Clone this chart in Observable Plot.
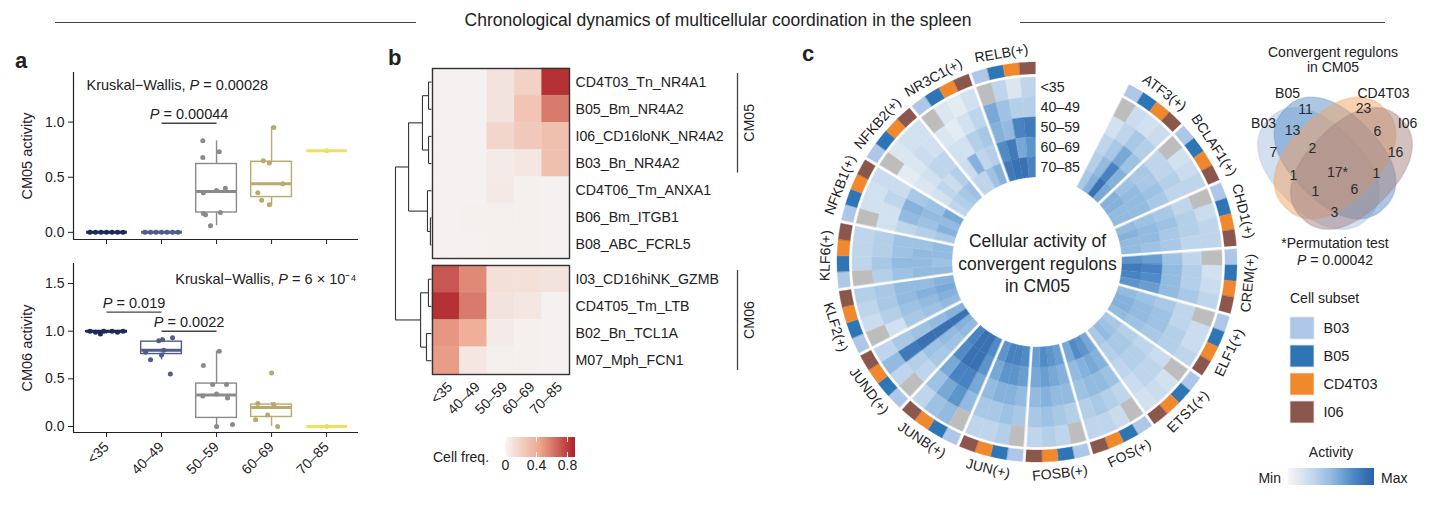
<!DOCTYPE html>
<html>
<head>
<meta charset="utf-8">
<script src="https://cdn.jsdelivr.net/npm/d3@7"></script>
<script src="https://cdn.jsdelivr.net/npm/@observablehq/plot@0.6"></script>
<style>
  html,body{margin:0;padding:0;background:#fff;}
  #fig{position:relative;width:1455px;height:519px;overflow:hidden;font-family:"Liberation Sans",Arial,Helvetica,sans-serif;color:#222;}
  #fig > *{position:absolute;}
  .t{white-space:nowrap;line-height:1;}
</style>
</head>
<body>
<div id="fig"></div>
<script>
// ======================= DATA =======================
const ages = ["<35", "40–49", "50–59", "60–69", "70–85"];
const ageColors = ["#1d2a57", "#505c89", "#8a8a8a", "#b8a96c", "#f1de60"];

// Panel a — CM05 activity (box summaries + samples)
const cm05Lo  = [0, 0, 0.06, 0.24, 0.74];
const cm05Q1  = [0, 0, 0.18, 0.32, 0.74];
const cm05Med = [0, 0, 0.37, 0.44, 0.74];
const cm05Q3  = [0, 0, 0.62, 0.64, 0.74];
const cm05Hi  = [0, 0, 0.83, 0.96, 0.74];
const cm05Pts = [[0,0,0,0,0,0,0],[0,0,0,0,0,0,0],[0.83,0.68,0.73,0.36,0.38,0.40,0.17,0.16,0.18,0.06],[0.95,0.65,0.63,0.36,0.29,0.25,0.44],[0.74]];
const cm05Jit = [[-0.3,-0.2,-0.1,0,0.1,0.2,0.3],[-0.3,-0.2,-0.1,0,0.1,0.2,0.3],[-0.25,-0.25,0.05,-0.24,0,0.16,-0.24,-0.2,0.07,-0.11],[0.04,-0.15,-0.04,-0.25,-0.18,-0.04,0.2],[0]];
const cm05Brackets = [{from: 1, to: 2, y: 0.99, label: "P = 0.00044"}];
const cm05KW = "Kruskal−Wallis, P = 0.00028";

// Panel a — CM06 activity
const cm06Lo  = [0.97, 0.70, 0, 0, 0];
const cm06Q1  = [0.99, 0.76, 0.09, 0.10, 0];
const cm06Med = [1.00, 0.80, 0.33, 0.20, 0];
const cm06Q3  = [1.00, 0.89, 0.45, 0.23, 0];
const cm06Hi  = [1.00, 0.93, 0.79, 0.25, 0];
const cm06Pts = [[1,0.99,1,0.97,1,0.99,1],[0.90,0.93,0.91,0.78,0.80,0.70,0.55,0.75],[0.79,0.64,0.44,0.44,0.32,0.34,0.30,0,0.02],[0.56,0.24,0.23,0.12,0.07,0],[0]];
const cm06Jit = [[-0.3,-0.2,-0.05,-0.11,0.1,0.2,0.3],[-0.05,0.2,0.02,-0.29,0.04,-0.2,0.16,0],[0.05,-0.24,-0.07,0.18,-0.25,0,0.2,0,0.29],[0,-0.25,0.04,-0.07,-0.29,0.11],[0]];
const cm06Brackets = [{from: 0, to: 1, y: 1.20, label: "P = 0.019"}, {from: 1, to: 2, y: 1.00, label: "P = 0.0022"}];
const cm06KW = "Kruskal−Wallis, P = 6 × 10⁻⁴";

// Panel b — cell frequency heatmap
const hmRowsTop = ["CD4T03_Tn_NR4A1","B05_Bm_NR4A2","I06_CD16loNK_NR4A2","B03_Bn_NR4A2","CD4T06_Tm_ANXA1","B06_Bm_ITGB1","B08_ABC_FCRL5"];
const hmRowsBottom = ["I03_CD16hiNK_GZMB","CD4T05_Tm_LTB","B02_Bn_TCL1A","M07_Mph_FCN1"];
const freqTop = [
  [0.02,0.02,0.10,0.20,0.85],
  [0.02,0.02,0.10,0.28,0.60],
  [0.02,0.02,0.18,0.25,0.30],
  [0.02,0.02,0.06,0.08,0.30],
  [0.02,0.02,0.07,0.03,0.02],
  [0.02,0.03,0.04,0.03,0.02],
  [0.02,0.02,0.03,0.03,0.02]];
const freqBottom = [
  [0.72,0.55,0.12,0.12,0.10],
  [0.85,0.60,0.10,0.08,0.02],
  [0.50,0.40,0.06,0.03,0.02],
  [0.48,0.08,0.04,0.03,0.02]];
const moduleTop = {from: 0, to: 3, label: "CM05"};
const moduleBottom = {from: 0, to: 3, label: "CM06"};
// dendrogram merges: [childA, childB, height]; leaves 0..10, merge k -> node 11+k
const dendroMerges = [[0,1,0.27],[2,3,0.27],[11,12,0.83],[5,6,0.1],[4,14,0.37],[13,15,2.1],[7,8,0.28],[9,10,0.46],[17,18,1.0],[16,19,3.3]];

// Panel c — circular heatmap of regulon activity (rows: age groups outer->inner, cols: B03,B05,CD4T03,I06)
const regulons = ["ATF3(+)","BCLAF1(+)","CHD1(+)","CREM(+)","ELF1(+)","ETS1(+)","FOS(+)","FOSB(+)","JUN(+)","JUNB(+)","JUND(+)","KLF2(+)","KLF6(+)","NFKB1(+)","NFKB2(+)","NR3C1(+)","RELB(+)"];
const cellSubsets = ["B03","B05","CD4T03","I06"];
const subsetColors = ["#aec7e8","#2e75b6","#f0882e","#8b564b"];
const actATF3  = [[null,.25,.20,.25],[.20,.30,.40,.35],[.30,.40,.60,.45],[.35,.50,.80,.55],[.40,.55,.90,.60]];
const actBCLAF1= [[null,.20,.25,.30],[.30,.30,.35,.30],[.40,.40,.45,.40],[.45,.50,.50,.50],[.55,.55,.50,.50]];
const actCHD1  = [[null,.25,.30,.30],[.30,.35,.35,.30],[.40,.45,.40,.40],[.45,.50,.50,.45],[.50,.55,.50,.50]];
const actCREM  = [[null,.20,.25,.30],[.30,.35,.35,.40],[.45,.50,.50,.50],[.65,.80,.75,.65],[.70,.85,.80,.70]];
const actELF1  = [[null,.25,.25,.30],[.30,.30,.35,.35],[.40,.45,.45,.40],[.45,.50,.50,.45],[.50,.55,.55,.50]];
const actETS1  = [[null,.20,.25,.20],[.25,.30,.30,.25],[.30,.35,.35,.30],[.35,.40,.40,.35],[.40,.45,.50,.40]];
const actFOS   = [[null,.25,.30,.30],[.30,.35,.40,.35],[.45,.50,.50,.45],[.55,.60,.55,.50],[.60,.70,.75,.60]];
const actFOSB  = [[null,.30,.35,.30],[.35,.40,.45,.40],[.50,.50,.55,.50],[.55,.60,.65,.60],[.65,.70,.75,.65]];
const actJUN   = [[null,.35,.30,.30],[.40,.45,.40,.40],[.50,.55,.55,.50],[.65,.70,.70,.60],[.75,.80,.80,.70]];
const actJUNB  = [[null,.50,.45,.30],[.50,.70,.60,.45],[.60,.80,.80,.60],[.70,.90,.90,.75],[.75,.90,.90,.80]];
const actJUND  = [[null,.30,.50,.30],[.30,.35,.85,.40],[.40,.45,.90,.45],[.45,.50,.90,.50],[.50,.55,.90,.55]];
const actKLF2  = [[null,.25,.30,.35],[.20,.35,.40,.40],[.40,.45,.50,.50],[.45,.50,.55,.50],[.50,.55,.60,.55]];
const actKLF6  = [[null,.30,.30,.30],[.35,.40,.35,.35],[.45,.50,.45,.45],[.50,.50,.50,.45],[.50,.45,.50,.50]];
const actNFKB1 = [[null,.20,.20,.25],[.20,.20,.30,.25],[.30,.50,.55,.40],[.35,.45,.50,.45],[.40,.55,.50,.60]];
const actNFKB2 = [[null,.15,.20,.20],[.10,.15,.25,.20],[.15,.20,.30,.30],[.20,.30,.25,.35],[.30,.35,.40,.45]];
const actNR3C1 = [[null,.15,.10,.20],[.15,.10,.20,.30],[.20,.20,.35,.40],[.25,.55,.30,.35],[.30,.30,.45,.55]];
const actRELB  = [[null,.30,.15,.30],[.60,.45,.35,.35],[.55,.50,.80,.85],[.75,.85,.60,.70],[.85,.90,.90,.80]];
const activityBySector = [actATF3,actBCLAF1,actCHD1,actCREM,actELF1,actETS1,actFOS,actFOSB,actJUN,actJUNB,actJUND,actKLF2,actKLF6,actNFKB1,actNFKB2,actNR3C1,actRELB];

// Venn diagram of convergent regulons
const vennSetLabels = ["B03","B05","CD4T03","I06"];
const vennColors = ["#a5c0e2","#5a8fc9","#f2a363","#a5837f"];
const vennCountLabels = ["7","11","23","16","13","6","2","1","17*","1","1","6","3"];

// ======================= HELPERS =======================
const fig = document.getElementById("fig");
const FONT = '"Liberation Sans", Arial, Helvetica, sans-serif';
const STYLE = {fontFamily: FONT, fontSize: "14px", color: "#222", background: "transparent", overflow: "visible"};
function place(el, left, top) { el.style.left = left + "px"; el.style.top = top + "px"; fig.appendChild(el); return el; }
function label(html, x, baseline, {size = 14, anchor = "middle", weight = "normal"} = {}) {
  const d = document.createElement("div");
  d.className = "t"; d.innerHTML = html;
  d.style.fontSize = size + "px"; d.style.fontWeight = weight;
  const tx = anchor === "middle" ? "-50%" : anchor === "end" ? "-100%" : "0";
  d.style.transform = `translate(${tx},0)`;
  return place(d, x, baseline - 0.8465 * size);
}
function italicP(svg) {
  svg.querySelectorAll("text, tspan").forEach(node => {
    if (node.children.length) return;
    const s = node.textContent, k = s.indexOf("P =");
    if (k < 0) return;
    node.textContent = "";
    node.append(s.slice(0, k));
    const it = document.createElementNS("http://www.w3.org/2000/svg", "tspan");
    it.setAttribute("font-style", "italic"); it.textContent = "P";
    node.append(it); node.append(s.slice(k + 1));
  });
  return svg;
}

// ======================= TITLE =======================
const lineL = document.createElement("div");
lineL.style.cssText = "width:361px;height:0;border-top:1.3px solid #444;";
place(lineL, 55, 22);
const lineR = document.createElement("div");
lineR.style.cssText = "width:365px;height:0;border-top:1.3px solid #444;";
place(lineR, 1020, 22);
label("Chronological dynamics of multicellular coordination in the spleen", 718, 27, {size: 17.5});
label("a", 15, 69, {size: 22, weight: "bold", anchor: "start"});
label("b", 388, 66, {size: 22, weight: "bold", anchor: "start"});
label("c", 802, 62, {size: 22, weight: "bold", anchor: "start"});

// ======================= PANEL a =======================
function boxPanel(cfg) {
  const idx = d3.range(ages.length);
  const pts = cfg.pts.flatMap((arr, g) => arr.map((v, k) => ({g, v, j: cfg.jit[g][k]})));
  const hw = 0.37, xDom = [-0.6, 4.58];
  const svg = Plot.plot({
    width: 370, height: cfg.height, marginLeft: 73, marginRight: 12, marginTop: cfg.mt, marginBottom: cfg.mb,
    style: STYLE,
    x: {domain: xDom, ticks: idx, tickSize: 5, tickPadding: cfg.showX ? 7 : 3, tickFormat: cfg.showX ? (i => ages[i]) : (() => ""), tickRotate: cfg.showX ? -45 : 0, label: null},
    y: {domain: cfg.yDomain, ticks: cfg.yTicks, tickSize: 5, tickPadding: 4, tickFormat: d3.format(".1f"), label: null},
    color: {domain: ages, range: ageColors},
    marks: [
      Plot.ruleX([xDom[0]], {stroke: "#222", strokeWidth: 1.2}),
      Plot.ruleY([cfg.yDomain[0]], {stroke: "#222", strokeWidth: 1.2}),
      Plot.ruleX(idx, {x: i => i, y1: i => cfg.lo[i], y2: i => cfg.q1[i], stroke: i => ages[i], strokeWidth: 1.4}),
      Plot.ruleX(idx, {x: i => i, y1: i => cfg.q3[i], y2: i => cfg.hi[i], stroke: i => ages[i], strokeWidth: 1.4}),
      Plot.rect(idx, {x1: i => i - hw, x2: i => i + hw, y1: i => cfg.q1[i], y2: i => cfg.q3[i], stroke: i => ages[i], fill: "none", strokeWidth: 1.4}),
      Plot.link(idx, {x1: i => i - hw, x2: i => i + hw, y1: i => cfg.med[i], y2: i => cfg.med[i], stroke: i => ages[i], strokeWidth: 3}),
      Plot.dot(pts, {x: d => d.g + d.j, y: "v", fill: d => ages[d.g], r: 2.5, stroke: "none"}),
      Plot.link(cfg.brackets, {x1: "from", x2: "to", y1: "y", y2: "y", stroke: "#444", strokeWidth: 1.4}),
      Plot.text(cfg.brackets, {x: d => (d.from + d.to) / 2, y: "y", text: "label", dy: -9, fontSize: 14.5}),
      Plot.text([cfg.kw], {frameAnchor: cfg.kwAnchor, text: d => d, dx: cfg.kwDx, dy: cfg.kwDy, textAnchor: cfg.kwTA, lineAnchor: "middle", fontSize: 14.5}),
      Plot.text([cfg.ylabel], {frameAnchor: "left", text: d => d, rotate: -90, dx: -46, textAnchor: "middle", lineAnchor: "middle", fontSize: 14.5})
    ]
  });
  return italicP(svg);
}
place(boxPanel({lo: cm05Lo, q1: cm05Q1, med: cm05Med, q3: cm05Q3, hi: cm05Hi, pts: cm05Pts, jit: cm05Jit,
  brackets: cm05Brackets, kw: cm05KW, kwAnchor: "top-left", kwDx: 13, kwDy: 13, kwTA: "start",
  yDomain: [-0.065, 1.45], yTicks: [0, 0.5, 1], ylabel: "CM05 activity", height: 190, mt: 12, mb: 11, showX: false}), 0, 60);
place(boxPanel({lo: cm06Lo, q1: cm06Q1, med: cm06Med, q3: cm06Q3, hi: cm06Hi, pts: cm06Pts, jit: cm06Jit,
  brackets: cm06Brackets, kw: cm06KW, kwAnchor: "top-right", kwDx: -2, kwDy: 16, kwTA: "end",
  yDomain: [-0.063, 1.71], yTicks: [0, 0.5, 1, 1.5], ylabel: "CM06 activity", height: 252, mt: 11, mb: 72, showX: true}), 0, 252);

// ======================= PANEL b =======================
const freqColor = {type: "linear", domain: [0, 0.45, 0.9], range: ["#f5f5f5", "#eea68c", "#ad232b"], clamp: true};
function heatPanel(rows, freq, mod, {height, mt, mb, showX}) {
  const cells = rows.flatMap((r, i) => ages.map((a, j) => ({i, j, v: freq[i][j]})));
  const svg = Plot.plot({
    width: 400, height, marginLeft: 62, marginRight: 201, marginTop: mt, marginBottom: mb,
    style: STYLE,
    x: {domain: [0, ages.length], axis: null},
    y: {domain: [0, rows.length], range: [mt, height - mb], axis: null},
    color: freqColor,
    marks: [
      Plot.rect(cells, {x1: "j", x2: d => d.j + 1, y1: "i", y2: d => d.i + 1, fill: "v", stroke: "v", strokeWidth: 0.4}),
      Plot.frame({stroke: "#333", strokeWidth: 1.4}),
      Plot.text(rows, {x: ages.length, y: (d, i) => i + 0.5, text: d => d, textAnchor: "start", dx: 6, fontSize: 14.2}),
      Plot.ruleX([mod], {x: ages.length, y1: "from", y2: d => d.to + 1, dx: 168, insetTop: 5, insetBottom: 4, stroke: "#444", strokeWidth: 1.3}),
      Plot.text([mod], {x: ages.length, y: d => (d.from + d.to + 1) / 2, text: "label", rotate: -90, dx: 180, fontSize: 14.2}),
      ...(showX ? [Plot.text(ages, {x: (d, i) => i + 0.5, y: rows.length, text: d => d, rotate: -45, textAnchor: "end", lineAnchor: "middle", dx: 4, dy: 10, fontSize: 14})] : [])
    ]
  });
  return svg;
}
place(heatPanel(hmRowsTop, freqTop, moduleTop, {height: 200, mt: 8, mb: 2, showX: false}), 370, 60);
place(heatPanel(hmRowsBottom, freqBottom, moduleBottom, {height: 162, mt: 3, mb: 50, showX: true}), 370, 262);

// dendrogram
{
  const nLeaf = 11, gap = 0.258;
  const ny = [], nh = [];
  for (let i = 0; i < nLeaf; i++) { ny[i] = i < 7 ? i : i + gap; nh[i] = 0; }
  const segs = [];
  dendroMerges.forEach(([a, b, h], k) => {
    const n = nLeaf + k;
    ny[n] = (ny[a] + ny[b]) / 2; nh[n] = h;
    segs.push({x1: h, y1: ny[a], x2: h, y2: ny[b]});
    segs.push({x1: nh[a], y1: ny[a], x2: h, y2: ny[a]});
    segs.push({x1: nh[b], y1: ny[b], x2: h, y2: ny[b]});
  });
  const svg = Plot.plot({
    width: 45, height: 310, margin: 0, style: STYLE,
    x: {domain: [3.3, 0], range: [5, 41], axis: null},
    y: {domain: [0, 10 + gap], range: [21.6, 300.2], axis: null},
    marks: [Plot.link(segs, {x1: "x1", y1: "y1", x2: "x2", y2: "y2", stroke: "#333", strokeWidth: 1.1})]
  });
  place(svg, 390, 60);
}
// frequency legend
{
  const lg = Plot.legend({color: freqColor, width: 80, height: 36, marginTop: 0, marginBottom: 16, marginLeft: 5, marginRight: 5,
    ticks: [0, 0.4, 0.8], tickSize: 0, tickFormat: d => (d === 0 ? "0" : String(d)), label: null,
    style: {fontFamily: FONT, fontSize: "14px", color: "#222", overflow: "visible"}});
  lg.querySelectorAll(".tick line").forEach(l => { l.setAttribute("stroke", "#fff"); l.setAttribute("stroke-dasharray", "5,10"); });
  place(lg, 500, 437);
  label("Cell freq.", 433, 462, {size: 14, anchor: "start"});
}

// ======================= PANEL c =======================
const actColor = {type: "linear", domain: [0, 0.25, 0.5, 0.75, 1], range: ["#f4f5f6", "#cadcee", "#93bbe0", "#4f8bc6", "#2b60a6"]};
{
  const START = 27, SPAN = (360 - START) / regulons.length;
  const RING = 20, R_HEAT = 185, R_ANN0 = 188, R_ANN1 = 200, R_LAB = 212, PAD = 1.6;
  const rad = Math.PI / 180;
  function arcCell(id, rIn, rOut, s, c, nCols) {
    const a0 = START + s * SPAN, a1 = a0 + SPAN;
    const pin = PAD / rIn / rad, pout = PAD / rOut / rad;
    const inS = a0 + pin, inE = a1 - pin, outS = a0 + pout, outE = a1 - pout;
    const pts = [], N = 6;
    for (let k = 0; k <= N; k++) {
      const f = (c + k / N) / nCols;
      const ai = (inS + (inE - inS) * f) * rad, ao = (outS + (outE - outS) * f) * rad;
      pts.push({id, x1: rIn * Math.sin(ai), y1: rIn * Math.cos(ai), x2: rOut * Math.sin(ao), y2: rOut * Math.cos(ao)});
    }
    return pts;
  }
  const heat = [], na = [], ann = [];
  regulons.forEach((name, s) => {
    const act = activityBySector[s];
    for (let k = 0; k < ages.length; k++) for (let c = 0; c < cellSubsets.length; c++) {
      const rOut = R_HEAT - RING * k, rIn = rOut - RING, v = act[k][c];
      const pts = arcCell(`h${s}-${k}-${c}`, rIn, rOut, s, c, cellSubsets.length);
      pts.forEach(p => p.v = v);
      (v == null ? na : heat).push(...pts);
    }
    for (let c = 0; c < cellSubsets.length; c++) {
      const pts = arcCell(`a${s}-${c}`, R_ANN0, R_ANN1, s, c, cellSubsets.length);
      pts.forEach(p => p.c = c);
      ann.push(...pts);
    }
  });
  const mids = regulons.map((d, s) => START + SPAN * (s + 0.5));
  const pos = {x1: "x1", y1: "y1", x2: "x2", y2: "y2", z: "id"};
  const svg = Plot.plot({
    width: 430, height: 470, margin: 0, style: STYLE,
    x: {domain: [-217, 213], range: [0, 430], axis: null},
    y: {domain: [222, -248], range: [0, 470], axis: null},
    color: actColor,
    marks: [
      Plot.area(heat, {...pos, fill: "v", stroke: "v", strokeWidth: 0.4}),
      Plot.area(na, {...pos, fill: "#bdbdbd", stroke: "#bdbdbd", strokeWidth: 0.4}),
      ...cellSubsets.map((sub, c) => Plot.area(ann.filter(p => p.c === c), {...pos, fill: subsetColors[c], stroke: subsetColors[c], strokeWidth: 0.3})),
      Plot.text(regulons, {x: (d, s) => R_LAB * Math.sin(mids[s] * rad), y: (d, s) => R_LAB * Math.cos(mids[s] * rad),
        rotate: (d, s) => { const m = mids[s]; return m < 90 ? m : m < 270 ? m - 180 : m - 360; }, text: d => d, fontSize: 14}),
      Plot.text(ages, {x: 3, y: (d, k) => R_HEAT - RING * k - RING / 2, text: d => d, textAnchor: "start", fontSize: 14.2}),
      Plot.text(["Cellular activity of\nconvergent regulons\nin CM05"], {x: 0, y: 0, text: d => d, fontSize: 17.5, lineHeight: 1.27})
    ]
  });
  place(svg, 820, 40);
}

// Venn diagram
{
  const shapes = [{cx: 1318, cy: 168, rot: 45}, {cx: 1334.5, cy: 157.5, rot: 45}, {cx: 1334.5, cy: 157.5, rot: -45}, {cx: 1351, cy: 168, rot: -45}];
  const A = 70, B = 44, NEXP = 2.3;
  function squircle(sh) {
    const pts = [], r = sh.rot * Math.PI / 180;
    for (let k = 0; k < 120; k++) {
      const t = 2 * Math.PI * k / 120, ct = Math.cos(t), st = Math.sin(t);
      const u = A * Math.sign(ct) * Math.pow(Math.abs(ct), 2 / NEXP), v = B * Math.sign(st) * Math.pow(Math.abs(st), 2 / NEXP);
      pts.push({x: sh.cx + u * Math.cos(r) - v * Math.sin(r), y: sh.cy + u * Math.sin(r) + v * Math.cos(r)});
    }
    return pts;
  }
  const regionXY = [[1273,152],[1305,109],[1363,108],[1395,152],[1292,130],[1377,131],[1312,148],[1293,175],[1337,172],[1376,173],[1315,191],[1354,189],[1334,212]];
  const setXY = [[1263,123],[1287,93],[1383,93],[1407,123]];
  const svg = Plot.plot({
    width: 215, height: 175, margin: 0, style: STYLE,
    x: {domain: [1240, 1455], range: [0, 215], axis: null},
    y: {domain: [70, 245], range: [0, 175], axis: null},
    marks: [
      ...shapes.map((sh, i) => Plot.line(squircle(sh), {x: "x", y: "y", curve: "linear-closed", fill: vennColors[i], fillOpacity: 0.5, stroke: vennColors[i], strokeOpacity: 0.3})),
      Plot.text(vennCountLabels, {x: (d, i) => regionXY[i][0], y: (d, i) => regionXY[i][1], text: d => d, fontSize: 14, fill: "#2a2a2a"}),
      Plot.text(vennSetLabels, {x: (d, i) => setXY[i][0], y: (d, i) => setXY[i][1], text: d => d, fontSize: 14})
    ]
  });
  place(svg, 1240, 70);
  label("Convergent regulons", 1333, 57, {size: 14});
  label("in CM05", 1333, 72, {size: 14});
  label("*Permutation test", 1335, 248, {size: 14});
  label("<i>P</i> = 0.00042", 1335, 265, {size: 14});
}

// Cell subset legend
{
  label("Cell subset", 1290, 303, {size: 14, anchor: "start"});
  const svg = Plot.plot({
    width: 150, height: 120, margin: 0, style: STYLE,
    x: {domain: ["sw"], range: [5, 29], padding: 0, axis: null},
    y: {domain: cellSubsets, range: [6, 114], paddingInner: 0.21, paddingOuter: 0, axis: null},
    color: {domain: cellSubsets, range: subsetColors},
    marks: [
      Plot.cell(cellSubsets, {x: () => "sw", y: d => d, fill: d => d, stroke: "#e6e6e6", strokeWidth: 0.8}),
      Plot.text(cellSubsets, {x: () => "sw", y: d => d, text: d => d, textAnchor: "start", dx: 21, fontSize: 14.5})
    ]
  });
  place(svg, 1285, 310);
}

// Activity legend
{
  label("Activity", 1331, 457, {size: 14});
  const lg = Plot.legend({color: actColor, width: 86, height: 17, marginTop: 0, marginBottom: 0, marginLeft: 0, marginRight: 0,
    ticks: [], tickSize: 0, label: null, style: {fontFamily: FONT, fontSize: "12px", overflow: "visible"}});
  place(lg, 1288, 468);
  label("Min", 1281, 483, {size: 14, anchor: "end"});
  label("Max", 1381, 483, {size: 14, anchor: "start"});
}
</script>
</body>
</html>
